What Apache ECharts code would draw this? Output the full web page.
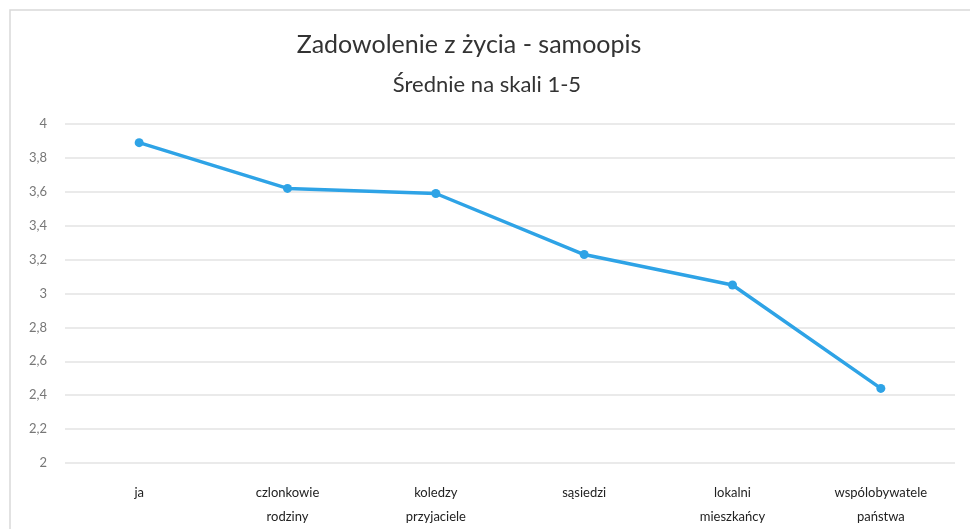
<!DOCTYPE html>
<html>
<head>
<meta charset="utf-8">
<script src="https://cdn.jsdelivr.net/npm/echarts@6/dist/echarts.min.js"></script>
<style>
  html, body { margin: 0; padding: 0; background: #fff; }
  #chart { width: 970px; height: 529px; }
</style>
</head>
<body>
<div id="chart"></div>
<script>
// kategorie i średnie
var categories = ['ja', 'czlonkowie\nrodziny', 'koledzy\nprzyjaciele', 'sąsiedzi', 'lokalni\nmieszkańcy', 'wspólobywatele\npaństwa'];
var means = [3.89, 3.62, 3.59, 3.23, 3.05, 2.44];
var yMin = 2, yMax = 4, yStep = 0.2;

var chart = echarts.init(document.getElementById('chart'));

var options = {
    backgroundColor: '#fff',
    graphic: [
        // ramka wykresu
        { type: 'rect', shape: { x: 10, y: 10, width: 980, height: 540 },
          style: { fill: 'none', stroke: '#d9d9d9', lineWidth: 1.5 }, silent: true }
    ],
    title: [
        { text: 'Zadowolenie z życia - samoopis', left: 464, top: 27, textAlign: 'center',
          textStyle: { fontFamily: 'Lato', fontSize: 25, fontWeight: 'normal', color: '#333' } },
        { text: 'Średnie na skali 1-5', left: 482, top: 69, textAlign: 'center',
          textStyle: { fontFamily: 'Lato', fontSize: 22, fontWeight: 'normal', color: '#333' } }
    ],
    grid: { left: 65, right: 15, top: 124, bottom: 65 },
    xAxis: {
        type: 'category',
        data: categories,
        boundaryGap: true,
        axisLine: { show: false },
        axisTick: { show: false },
        axisLabel: {
            interval: 0, margin: 18, lineHeight: 24,
            fontFamily: 'Lato', fontSize: 13, color: '#222'
        }
    },
    yAxis: {
        type: 'value',
        min: yMin, max: yMax, interval: yStep,
        axisLine: { show: false },
        axisTick: { show: false },
        splitLine: { lineStyle: { color: '#e3e3e3', width: 1.5 } },
        axisLabel: {
            margin: 18,
            fontFamily: 'Lato', fontSize: 13, color: '#777',
            formatter: function (v) { return String(Math.round(v * 10) / 10).replace('.', ','); }
        }
    },
    series: [
        {
            type: 'line',
            data: means,
            symbol: 'circle',
            symbolSize: 9,
            lineStyle: { color: '#2ea3e6', width: 3.5 },
            itemStyle: { color: '#2ea3e6' }
        }
    ]
};

chart.setOption(options);
</script>
</body>
</html>
